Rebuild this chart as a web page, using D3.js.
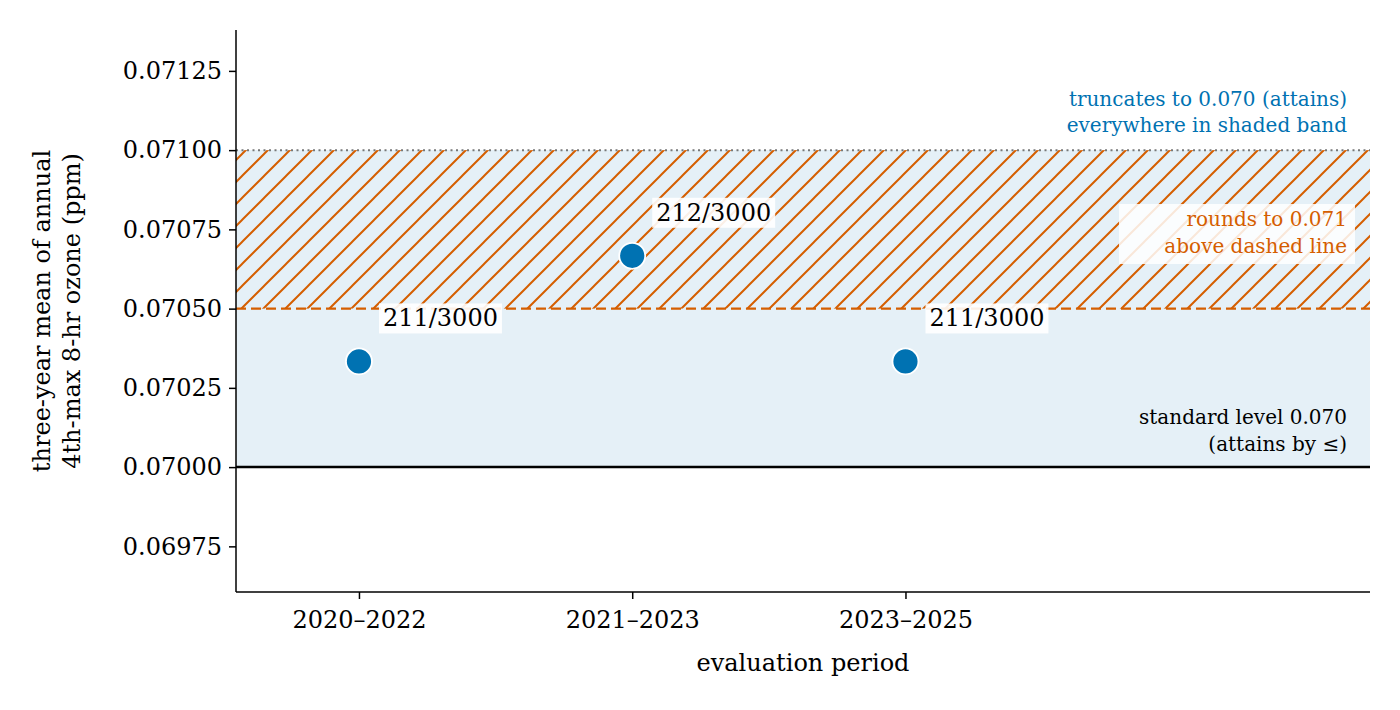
<!DOCTYPE html>
<html><head><meta charset="utf-8">
<script src="https://cdn.jsdelivr.net/npm/d3@7"></script>
<style>body{margin:0;background:#fff}text{font-family:"DejaVu Serif",serif}</style>
</head><body><svg id="c" width="1400" height="710"></svg>
<script>
const periods = ["2020–2022","2021–2023","2023–2025"];
const values = [211/3000, 212/3000, 211/3000];
const labels = ["211/3000","212/3000","211/3000"];
const yTicks = [0.06975,0.07,0.07025,0.0705,0.07075,0.071,0.07125];
const standard = 0.070, roundLine = 0.0705, truncTop = 0.071;

const svg = d3.select("#c");
const L=236,R=1370,T=30,B=592;
const x = d3.scaleLinear().domain([-0.45,3.70]).range([L,R]);
const y = d3.scaleLinear().domain([0.069606,0.071379]).range([B,T]);
const defs = svg.append("defs");
const P=22;
const pat = defs.append("pattern").attr("id","h").attr("patternUnits","userSpaceOnUse")
  .attr("width",P).attr("height",P);
pat.append("rect").attr("width",P).attr("height",P).attr("fill","#e5f0f7");
pat.append("path").attr("d",`M0,${P} L${P},0 M-3,3 L3,-3 M${P-3},${P+3} L${P+3},${P-3}`).attr("stroke","#d55e00").attr("stroke-width",2);
defs.append("clipPath").attr("id","cp").append("rect").attr("x",L).attr("y",T).attr("width",R-L).attr("height",B-T);
const g = svg.append("g").attr("clip-path","url(#cp)");
g.append("rect").attr("x",L).attr("width",R-L).attr("y",y(truncTop)).attr("height",y(standard)-y(truncTop)).attr("fill","#e5f0f7");
g.append("rect").attr("x",L).attr("width",R-L).attr("y",y(truncTop)).attr("height",y(roundLine)-y(truncTop)).attr("fill","url(#h)");
g.append("line").attr("x1",L).attr("x2",R).attr("y1",y(truncTop)).attr("y2",y(truncTop)).attr("stroke","#777").attr("stroke-width",2).attr("stroke-dasharray","2,3.5");
g.append("line").attr("x1",L).attr("x2",R).attr("y1",y(roundLine)).attr("y2",y(roundLine)).attr("stroke","#d55e00").attr("stroke-width",2.4).attr("stroke-dasharray","10,5");
g.append("line").attr("x1",L).attr("x2",R).attr("y1",y(standard)).attr("y2",y(standard)).attr("stroke","#000").attr("stroke-width",2.5);

function label(txt,xp,yp,anchor,color,size,bg){
  const t=svg.append("text").attr("x",xp).attr("y",yp).attr("text-anchor",anchor).attr("fill",color).style("font-size",size+"px").text(txt);
  if(bg){const b=t.node().getBBox();svg.insert("rect",()=>t.node()).attr("x",b.x-4).attr("y",b.y-1).attr("width",b.width+8).attr("height",b.height+2).attr("fill","#fff").attr("opacity",0.9);}
}
label("truncates to 0.070 (attains)",1347,106,"end","#0072b2",20);
label("everywhere in shaded band",1347,132,"end","#0072b2",20);
svg.append("rect").attr("x",1119).attr("y",204).attr("width",236).attr("height",60).attr("fill","#fff").attr("opacity",0.85);
label("rounds to 0.071",1347,226,"end","#d55e00",20);
label("above dashed line",1347,253,"end","#d55e00",20);
label("standard level 0.070",1347,424,"end","#000",20);
label("(attains by ≤)",1347,451,"end","#000",20);

values.forEach((v,i)=>{
  svg.append("circle").attr("cx",x(i)).attr("cy",y(v)).attr("r",13).attr("fill","#0072b2").attr("stroke","#fff").attr("stroke-width",1.8);
  label(labels[i],x(i)+24,y(v)-35,"start","#000",24,true);
});

const ya=svg.append("g").attr("transform",`translate(${L},0)`).call(d3.axisLeft(y).tickValues(yTicks).tickFormat(d3.format(".5f")).tickSize(7));
const xa=svg.append("g").attr("transform",`translate(0,${B})`).call(d3.axisBottom(x).tickValues([0,1,2]).tickFormat(i=>periods[i]).tickSize(7));
[ya,xa].forEach(a=>{a.selectAll("text").style("font-size","24px").attr("fill","#000").style("font-family","DejaVu Serif");a.selectAll("line,path").attr("stroke","#000").attr("stroke-width",1.5);});
ya.select(".domain").attr("d",`M0,${T}V${B}`);
xa.select(".domain").attr("d",`M${L},0H${R}`);
xa.selectAll("text").attr("dy","1.1em");
ya.selectAll("text").attr("dx","-4");
svg.append("text").attr("x",(L+R)/2).attr("y",671).attr("text-anchor","middle").style("font-size","24px").text("evaluation period");
const yl=svg.append("text").attr("transform","translate(50,311) rotate(-90)").attr("text-anchor","middle").style("font-size","24px");
yl.append("tspan").attr("x",0).attr("dy",0).text("three-year mean of annual");
yl.append("tspan").attr("x",0).attr("dy",30).text("4th-max 8-hr ozone (ppm)");
</script></body></html>
